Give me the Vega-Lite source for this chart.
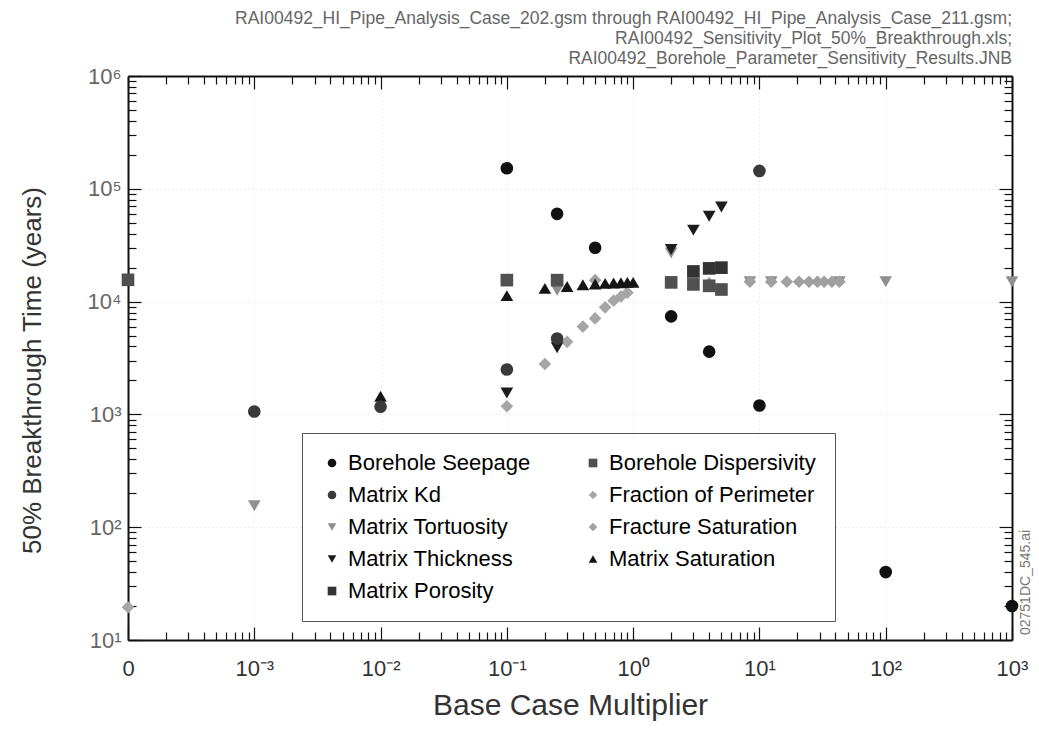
{
  "$schema": "https://vega.github.io/schema/vega-lite/v6.json",
  "autosize": {"type": "none"},
  "padding": {"left": 128, "top": 76, "right": 27, "bottom": 102},
  "width": 884,
  "height": 564,
  "background": "white",
  "title": {
    "text": ["RAI00492_HI_Pipe_Analysis_Case_202.gsm through RAI00492_HI_Pipe_Analysis_Case_211.gsm;", "RAI00492_Sensitivity_Plot_50%_Breakthrough.xls;", "RAI00492_Borehole_Parameter_Sensitivity_Results.JNB"],
    "anchor": "end",
    "frame": "group",
    "font": "Liberation Sans",
    "fontSize": 17.5,
    "fontWeight": "normal",
    "color": "#666",
    "lineHeight": 20,
    "offset": -2
  },
  "config": {
    "view": {"stroke": null},
    "font": "Liberation Sans"
  },
  "data": {
    "values": [
      {"p": "Fraction of Perimeter", "m": 0.0001, "t": 19.5},
      {"p": "Fraction of Perimeter", "m": 0.1, "t": 1180},
      {"p": "Fraction of Perimeter", "m": 0.2, "t": 2800},
      {"p": "Fraction of Perimeter", "m": 0.3, "t": 4400},
      {"p": "Fraction of Perimeter", "m": 0.4, "t": 6000},
      {"p": "Fraction of Perimeter", "m": 0.5, "t": 7100},
      {"p": "Fraction of Perimeter", "m": 0.6, "t": 8900},
      {"p": "Fraction of Perimeter", "m": 0.7, "t": 10200},
      {"p": "Fraction of Perimeter", "m": 0.8, "t": 11100},
      {"p": "Fraction of Perimeter", "m": 0.9, "t": 12000},
      {"p": "Matrix Tortuosity", "m": 0.001, "t": 155},
      {"p": "Matrix Tortuosity", "m": 0.25, "t": 12600},
      {"p": "Matrix Tortuosity", "m": 2, "t": 27000},
      {"p": "Matrix Tortuosity", "m": 8.4, "t": 15000},
      {"p": "Matrix Tortuosity", "m": 12.4, "t": 15000},
      {"p": "Matrix Tortuosity", "m": 43, "t": 15000},
      {"p": "Matrix Tortuosity", "m": 100, "t": 15000},
      {"p": "Matrix Tortuosity", "m": 1000, "t": 15000},
      {"p": "Fracture Saturation", "m": 0.5, "t": 15500},
      {"p": "Fracture Saturation", "m": 4, "t": 14500},
      {"p": "Fracture Saturation", "m": 8.4, "t": 15000},
      {"p": "Fracture Saturation", "m": 12.4, "t": 15000},
      {"p": "Fracture Saturation", "m": 16.5, "t": 15000},
      {"p": "Fracture Saturation", "m": 20.6, "t": 15000},
      {"p": "Fracture Saturation", "m": 24.7, "t": 15000},
      {"p": "Fracture Saturation", "m": 28.8, "t": 15000},
      {"p": "Fracture Saturation", "m": 32.5, "t": 15000},
      {"p": "Fracture Saturation", "m": 37.5, "t": 15000},
      {"p": "Fracture Saturation", "m": 43, "t": 15000},
      {"p": "Borehole Dispersivity", "m": 0.0001, "t": 15600},
      {"p": "Borehole Dispersivity", "m": 0.1, "t": 15500},
      {"p": "Borehole Dispersivity", "m": 0.25, "t": 15500},
      {"p": "Borehole Dispersivity", "m": 2, "t": 14800},
      {"p": "Borehole Dispersivity", "m": 3, "t": 14200},
      {"p": "Borehole Dispersivity", "m": 4, "t": 13800},
      {"p": "Borehole Dispersivity", "m": 5, "t": 12800},
      {"p": "Matrix Porosity", "m": 3, "t": 18500},
      {"p": "Matrix Porosity", "m": 4, "t": 19700},
      {"p": "Matrix Porosity", "m": 5, "t": 20000},
      {"p": "Matrix Saturation", "m": 0.01, "t": 1450},
      {"p": "Matrix Saturation", "m": 0.1, "t": 11300},
      {"p": "Matrix Saturation", "m": 0.2, "t": 13100},
      {"p": "Matrix Saturation", "m": 0.3, "t": 13600},
      {"p": "Matrix Saturation", "m": 0.4, "t": 14100},
      {"p": "Matrix Saturation", "m": 0.5, "t": 14300},
      {"p": "Matrix Saturation", "m": 0.6, "t": 14500},
      {"p": "Matrix Saturation", "m": 0.7, "t": 14600},
      {"p": "Matrix Saturation", "m": 0.8, "t": 14700},
      {"p": "Matrix Saturation", "m": 0.9, "t": 14800},
      {"p": "Matrix Saturation", "m": 1.0, "t": 14800},
      {"p": "Matrix Thickness", "m": 0.1, "t": 1550},
      {"p": "Matrix Thickness", "m": 0.25, "t": 3900},
      {"p": "Matrix Thickness", "m": 2, "t": 29000},
      {"p": "Matrix Thickness", "m": 3, "t": 43000},
      {"p": "Matrix Thickness", "m": 4, "t": 57000},
      {"p": "Matrix Thickness", "m": 5, "t": 69000},
      {"p": "Matrix Kd", "m": 0.001, "t": 1060},
      {"p": "Matrix Kd", "m": 0.01, "t": 1170},
      {"p": "Matrix Kd", "m": 0.1, "t": 2500},
      {"p": "Matrix Kd", "m": 0.25, "t": 4700},
      {"p": "Matrix Kd", "m": 10, "t": 144000},
      {"p": "Borehole Seepage", "m": 0.1, "t": 152000},
      {"p": "Borehole Seepage", "m": 0.25, "t": 60000},
      {"p": "Borehole Seepage", "m": 0.5, "t": 30000},
      {"p": "Borehole Seepage", "m": 2, "t": 7400},
      {"p": "Borehole Seepage", "m": 4, "t": 3600},
      {"p": "Borehole Seepage", "m": 10, "t": 1200},
      {"p": "Borehole Seepage", "m": 100, "t": 40},
      {"p": "Borehole Seepage", "m": 1000, "t": 20}
    ]
  },
  "resolve": {"axis": {"x": "independent", "y": "independent"}},
  "layer": [
    {
      "mark": {"type": "point", "filled": true, "opacity": 1, "size": 160},
      "encoding": {
        "x": {
          "field": "m", "type": "quantitative",
          "scale": {"type": "log", "domain": [0.0001, 1000], "nice": false, "zero": false},
          "axis": {
            "orient": "bottom",
            "title": "Base Case Multiplier",
            "titleFont": "Liberation Sans", "titleFontSize": 30, "titleFontWeight": "normal", "titleColor": "#333",
            "titleY": 65, "titleBaseline": "middle",
            "values": [0.0001,0.0002,0.0003,0.0004,0.0005,0.0006,0.0007,0.0008,0.0009,0.001,0.002,0.003,0.004,0.005,0.006,0.007,0.008,0.009,0.01,0.02,0.03,0.04,0.05,0.06,0.07,0.08,0.09,0.1,0.2,0.3,0.4,0.5,0.6,0.7,0.8,0.9,1,2,3,4,5,6,7,8,9,10,20,30,40,50,60,70,80,90,100,200,300,400,500,600,700,800,900,1000],
            "labelExpr": "datum.value == 0.0001 ? '0' : datum.value == 0.001 ? '10⁻³' : datum.value == 0.01 ? '10⁻²' : datum.value == 0.1 ? '10⁻¹' : datum.value == 1 ? '10⁰' : datum.value == 10 ? '10¹' : datum.value == 100 ? '10²' : datum.value == 1000 ? '10³' : ''",
            "labelFont": "Liberation Sans", "labelFontSize": 22, "labelColor": "#333",
            "labelOverlap": false, "labelFlush": false, "labelBound": false,
            "labelPadding": 31,
            "tickSize": {"condition": {"test": "abs(log(datum.value)/LN10 - round(log(datum.value)/LN10)) < 0.001", "value": -13}, "value": -8},
            "tickColor": "#111", "tickWidth": 1.2,
            "domainColor": "#111", "domainWidth": 2,
            "grid": true, "gridColor": "#bbb", "gridDash": [1, 3],
            "gridOpacity": {"condition": {"test": "abs(log(datum.value)/LN10 - round(log(datum.value)/LN10)) < 0.001", "value": 0.5}, "value": 0}
          }
        },
        "y": {
          "field": "t", "type": "quantitative",
          "scale": {"type": "log", "domain": [10, 1000000], "nice": false, "zero": false},
          "axis": {
            "orient": "left",
            "title": "50% Breakthrough Time (years)",
            "titleFont": "Liberation Sans", "titleFontSize": 26, "titleFontWeight": "normal", "titleColor": "#333",
            "titleX": -96, "titleY": 294, "titleBaseline": "middle", "titleAlign": "center", "titleAngle": 270,
            "values": [10,20,30,40,50,60,70,80,90,100,200,300,400,500,600,700,800,900,1000,2000,3000,4000,5000,6000,7000,8000,9000,10000,20000,30000,40000,50000,60000,70000,80000,90000,100000,200000,300000,400000,500000,600000,700000,800000,900000,1000000],
            "labelExpr": "datum.value == 10 ? '10¹' : datum.value == 100 ? '10²' : datum.value == 1000 ? '10³' : datum.value == 10000 ? '10⁴' : datum.value == 100000 ? '10⁵' : datum.value == 1000000 ? '10⁶' : ''",
            "labelFont": "Liberation Sans", "labelFontSize": 22, "labelColor": "#666",
            "labelOverlap": false, "labelFlush": false, "labelBound": false,
            "labelPadding": 20,
            "tickSize": {"condition": {"test": "abs(log(datum.value)/LN10 - round(log(datum.value)/LN10)) < 0.001", "value": -13}, "value": -8},
            "tickColor": "#111", "tickWidth": 1.2,
            "domainColor": "#111", "domainWidth": 2,
            "grid": true, "gridColor": "#bbb", "gridDash": [1, 3],
            "gridOpacity": {"condition": {"test": "abs(log(datum.value)/LN10 - round(log(datum.value)/LN10)) < 0.001", "value": 0.5}, "value": 0}
          }
        },
        "color": {
          "field": "p", "type": "nominal",
          "scale": {
            "domain": ["Borehole Seepage", "Matrix Kd", "Matrix Tortuosity", "Matrix Thickness", "Matrix Porosity", "Borehole Dispersivity", "Fraction of Perimeter", "Fracture Saturation", "Matrix Saturation"],
            "range": ["#111111", "#3a3a3a", "#8f8f8f", "#1c1c1c", "#333333", "#505050", "#a6a6a6", "#a0a0a0", "#151515"]
          },
          "legend": {
            "orient": "none", "legendX": 174, "legendY": 357,
            "columns": 2, "title": null,
            "padding": 19, "strokeColor": "#555", "fillColor": "white",
            "labelFont": "Liberation Sans", "labelFontSize": 22,
            "labelOffset": 5, "labelLimit": 400,
            "symbolSize": 75, "symbolStrokeWidth": 0,
            "rowPadding": 10, "columnPadding": 51,
            "encode": {"labels": {"fill": {"condition": {"test": "datum.label == 'Matrix Tortuosity' || datum.label == 'Fracture Saturation' || datum.value == 'Matrix Tortuosity' || datum.value == 'Fracture Saturation'", "value": "#a0a0a0"}, "value": "#222222"}}}
          }
        },
        "shape": {
          "field": "p", "type": "nominal",
          "scale": {
            "domain": ["Borehole Seepage", "Matrix Kd", "Matrix Tortuosity", "Matrix Thickness", "Matrix Porosity", "Borehole Dispersivity", "Fraction of Perimeter", "Fracture Saturation", "Matrix Saturation"],
            "range": ["circle", "circle", "triangle-down", "triangle-down", "square", "square", "diamond", "diamond", "triangle-up"]
          },
          "legend": {
            "orient": "none", "legendX": 174, "legendY": 357,
            "columns": 2, "title": null,
            "padding": 19, "strokeColor": "#555", "fillColor": "white",
            "labelFont": "Liberation Sans", "labelFontSize": 22,
            "labelOffset": 5, "labelLimit": 400,
            "symbolSize": 75, "symbolStrokeWidth": 0,
            "rowPadding": 10, "columnPadding": 51,
            "encode": {"labels": {"fill": {"condition": {"test": "datum.label == 'Matrix Tortuosity' || datum.label == 'Fracture Saturation' || datum.value == 'Matrix Tortuosity' || datum.value == 'Fracture Saturation'", "value": "#a0a0a0"}, "value": "#222222"}}}
          }
        }
      }
    },
    {
      "mark": {"type": "point", "opacity": 0},
      "encoding": {
        "x": {
          "field": "m", "type": "quantitative",
          "scale": {"type": "log", "domain": [0.0001, 1000], "nice": false, "zero": false},
          "axis": {
            "orient": "top", "title": null, "labels": false, "grid": false,
            "values": [0.0001,0.0002,0.0003,0.0004,0.0005,0.0006,0.0007,0.0008,0.0009,0.001,0.002,0.003,0.004,0.005,0.006,0.007,0.008,0.009,0.01,0.02,0.03,0.04,0.05,0.06,0.07,0.08,0.09,0.1,0.2,0.3,0.4,0.5,0.6,0.7,0.8,0.9,1,2,3,4,5,6,7,8,9,10,20,30,40,50,60,70,80,90,100,200,300,400,500,600,700,800,900,1000],
            "tickSize": {"condition": {"test": "abs(log(datum.value)/LN10 - round(log(datum.value)/LN10)) < 0.001", "value": -13}, "value": -8},
            "tickColor": "#111", "tickWidth": 1.2,
            "domainColor": "#111", "domainWidth": 2
          }
        },
        "y": {
          "field": "t", "type": "quantitative",
          "scale": {"type": "log", "domain": [10, 1000000], "nice": false, "zero": false},
          "axis": {
            "orient": "right", "labels": false, "grid": false,
            "title": "02751DC_545.ai",
            "titleFont": "Liberation Sans", "titleFontSize": 14, "titleFontWeight": "normal", "titleColor": "#777",
            "titleX": 13, "titleY": 506, "titleAngle": 270, "titleAlign": "center", "titleBaseline": "middle",
            "values": [10,20,30,40,50,60,70,80,90,100,200,300,400,500,600,700,800,900,1000,2000,3000,4000,5000,6000,7000,8000,9000,10000,20000,30000,40000,50000,60000,70000,80000,90000,100000,200000,300000,400000,500000,600000,700000,800000,900000,1000000],
            "tickSize": {"condition": {"test": "abs(log(datum.value)/LN10 - round(log(datum.value)/LN10)) < 0.001", "value": -13}, "value": -8},
            "tickColor": "#111", "tickWidth": 1.2,
            "domainColor": "#111", "domainWidth": 2
          }
        }
      }
    }
  ]
}
